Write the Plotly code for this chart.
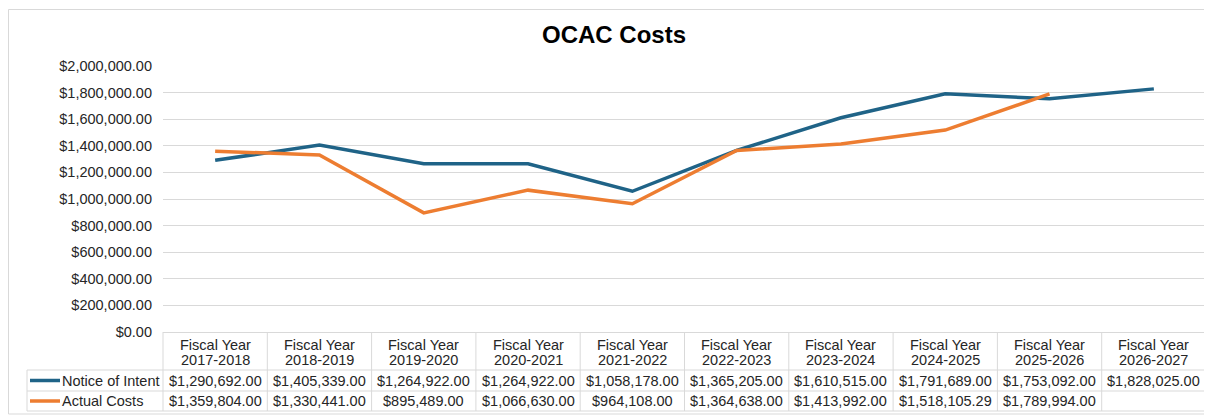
import plotly.graph_objects as go

# ---- data ----
years = ["2017-2018", "2018-2019", "2019-2020", "2020-2021", "2021-2022",
         "2022-2023", "2023-2024", "2024-2025", "2025-2026", "2026-2027"]
notice_of_intent = [1290692.00, 1405339.00, 1264922.00, 1264922.00, 1058178.00,
                    1365205.00, 1610515.00, 1791689.00, 1753092.00, 1828025.00]
actual_costs = [1359804.00, 1330441.00, 895489.00, 1066630.00, 964108.00,
                1364638.00, 1413992.00, 1518105.29, 1789994.00, None]
series_names = ["Notice of Intent", "Actual Costs"]
title_text = "OCAC Costs"

# ---- style / layout (page pixel coordinates; page body has an 8px margin) ----
OFF = 8
PAGE_W, PAGE_H = 1212, 415
W, H = PAGE_W - OFF, PAGE_H - OFF
PLOT_L, PLOT_R, PLOT_T, PLOT_B = 163, 1206, 66, 332   # page px
L, R, T, B = PLOT_L - OFF, W - (PLOT_R - OFF), PLOT_T - OFF, H - (PLOT_B - OFF)
PW, PH = PLOT_R - PLOT_L, PLOT_B - PLOT_T
BLUE = "#1F6387"
ORANGE = "#ED7D31"
GRID = "#D9D9D9"
TXT = "#262626"
FONT = "Arial, Liberation Sans, sans-serif"
FS = 14.5

def px_x(px):
    return (px - PLOT_L) / PW

def px_y(py):
    return (PLOT_B - py) / PH

categories = ["Fiscal Year " + y for y in years]

fig = go.Figure()
for name, vals, col in [(series_names[0], notice_of_intent, BLUE),
                        (series_names[1], actual_costs, ORANGE)]:
    fig.add_trace(go.Scatter(x=categories, y=vals, mode="lines", name=name,
                             line=dict(color=col, width=3.5), connectgaps=False))

shapes = []
annotations = []
n = len(categories)

# table horizontal lines
for py in [370, 391, 411]:
    shapes.append(dict(type="line", xref="paper", yref="paper",
                       x0=px_x(27), x1=1, y0=px_y(py), y1=px_y(py),
                       line=dict(color=GRID, width=1)))
# table vertical lines (column boundaries)
for k in range(n + 1):
    shapes.append(dict(type="line", xref="paper", yref="paper",
                       x0=k / n, x1=k / n, y0=0, y1=px_y(411),
                       line=dict(color=GRID, width=1)))
shapes.append(dict(type="line", xref="paper", yref="paper",
                   x0=px_x(27), x1=px_x(27), y0=px_y(370), y1=px_y(411),
                   line=dict(color=GRID, width=1)))
# outer chart border
shapes.append(dict(type="rect", xref="paper", yref="paper",
                   x0=px_x(8.5), x1=px_x(1208), y0=px_y(414), y1=px_y(9.5),
                   line=dict(color=GRID, width=1), fillcolor="rgba(0,0,0,0)",
                   layer="below"))

# header labels
for c, y in zip(categories, years):
    annotations.append(dict(x=c, xref="x", y=px_y(344.5), yref="paper",
                            text="Fiscal Year", showarrow=False,
                            font=dict(family=FONT, size=FS, color=TXT),
                            xanchor="center", yanchor="middle"))
    annotations.append(dict(x=c, xref="x", y=px_y(360), yref="paper",
                            text=y, showarrow=False,
                            font=dict(family=FONT, size=FS, color=TXT),
                            xanchor="center", yanchor="middle"))

# data rows
row_centers = [380.5, 401]
for r, (name, vals, col) in enumerate([(series_names[0], notice_of_intent, BLUE),
                                       (series_names[1], actual_costs, ORANGE)]):
    yc = px_y(row_centers[r])
    shapes.append(dict(type="line", xref="paper", yref="paper",
                       x0=px_x(30), x1=px_x(60), y0=yc, y1=yc,
                       line=dict(color=col, width=3.5)))
    annotations.append(dict(x=px_x(60), xref="paper", y=yc, yref="paper",
                            text=name, showarrow=False,
                            font=dict(family=FONT, size=FS, color=TXT),
                            xanchor="left", yanchor="middle"))
    for c, v in zip(categories, vals):
        if v is None:
            continue
        annotations.append(dict(x=c, xref="x", y=yc, yref="paper",
                                text=f"${v:,.2f}", showarrow=False,
                                font=dict(family=FONT, size=FS, color=TXT),
                                xanchor="center", yanchor="middle"))

fig.update_layout(
    width=W, height=H,
    margin=dict(l=L, r=R, t=T, b=B, autoexpand=False),
    paper_bgcolor="white", plot_bgcolor="white",
    showlegend=False,
    title=dict(text=f"<b>{title_text}</b>", x=(614 - OFF) / W, xref="container",
               xanchor="center", y=1 - (35 - OFF) / H, yref="container",
               yanchor="middle",
               font=dict(family=FONT, size=24, color="black")),
    xaxis=dict(type="category", range=[-0.5, n - 0.5], showticklabels=False,
               showgrid=False, zeroline=False, showline=False, ticks=""),
    yaxis=dict(range=[0, 2000000], dtick=200000, tickformat="$,.2f",
               showgrid=True, gridcolor=GRID, gridwidth=1,
               zeroline=True, zerolinecolor=GRID, zerolinewidth=1,
               showline=False, ticks="", ticklabelstandoff=10,
               tickfont=dict(family=FONT, size=FS, color=TXT)),
    shapes=shapes,
    annotations=annotations,
)

fig.write_html("out.html")
